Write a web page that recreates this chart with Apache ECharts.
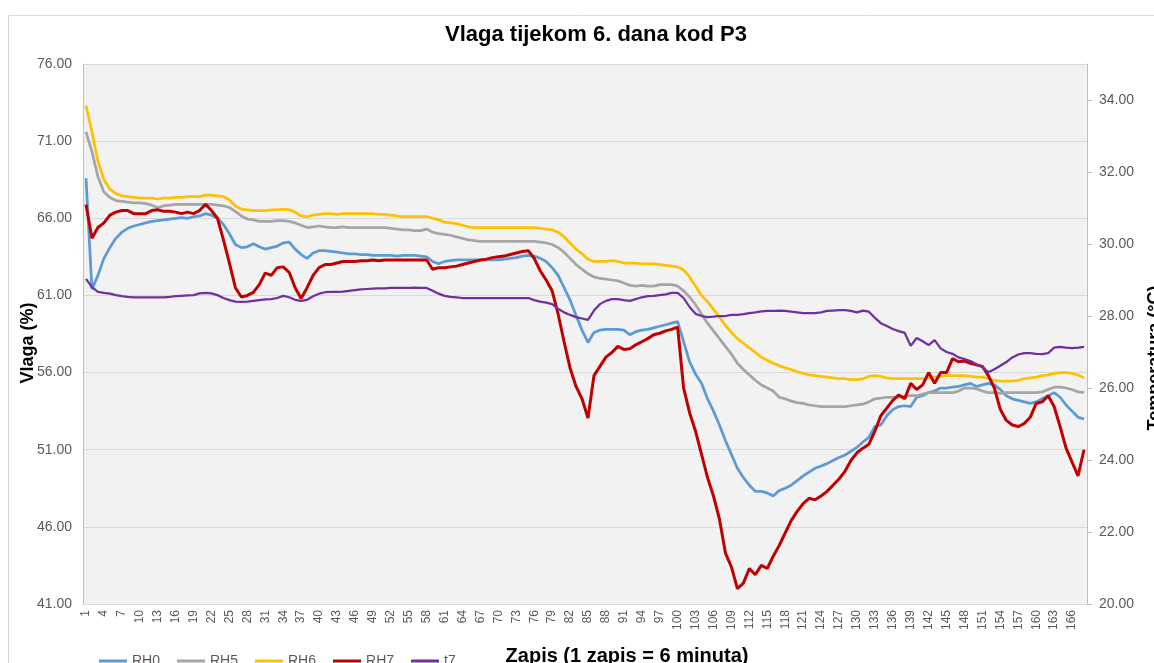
<!DOCTYPE html>
<html>
<head>
<meta charset="utf-8">
<title>Vlaga tijekom 6. dana kod P3</title>
<script src="https://cdn.jsdelivr.net/npm/echarts@6/dist/echarts.min.js"></script>
<style>
  html, body { margin: 0; padding: 0; background: #fff; }
  #chart { width: 1154px; height: 663px; }
</style>
</head>
<body>
<div id="chart"></div>
<script>
// redni broj zapisa (1 zapis = 6 minuta)
const records = Array.from({ length: 168 }, (v, i) => String(i + 1))

// vlaga (%) - lijeva os
const rh0 = [
  68.6, 61.4, 62.3, 63.4, 64.1, 64.7, 65.1, 65.35, 65.5, 65.6,
  65.7, 65.8, 65.85, 65.9, 65.95, 66.0, 66.05, 66.0, 66.1, 66.15,
  66.3, 66.2, 66.0, 65.6, 65.0, 64.3, 64.1, 64.15, 64.35, 64.15,
  64.0, 64.1, 64.2, 64.4, 64.45, 64.0, 63.65, 63.4, 63.75, 63.9,
  63.9, 63.85, 63.8, 63.75, 63.7, 63.7, 63.65, 63.65, 63.6, 63.6,
  63.6, 63.6, 63.55, 63.6, 63.6, 63.6, 63.55, 63.5, 63.2, 63.05,
  63.2, 63.25, 63.3, 63.3, 63.3, 63.3, 63.3, 63.3, 63.3, 63.3,
  63.35, 63.4, 63.45, 63.55, 63.6, 63.55, 63.4, 63.2, 62.8, 62.3,
  61.5, 60.7, 59.7, 58.75, 57.95, 58.6, 58.75, 58.8, 58.8, 58.8,
  58.75, 58.45, 58.65, 58.75, 58.8, 58.9, 59.0, 59.1, 59.2, 59.3,
  58.0, 56.7, 55.9, 55.3, 54.3, 53.5, 52.6, 51.6, 50.7, 49.8,
  49.2, 48.7, 48.3, 48.3, 48.2, 48.0, 48.35, 48.5, 48.7, 49.0,
  49.3, 49.55, 49.8, 49.95, 50.1, 50.3, 50.5, 50.65, 50.9, 51.15,
  51.5, 51.8, 52.5, 52.6, 53.2, 53.6, 53.8, 53.85, 53.8, 54.4,
  54.5, 54.7, 54.8, 55.0, 55.0, 55.05, 55.1, 55.2, 55.3, 55.1,
  55.2, 55.3, 55.2, 54.9, 54.5, 54.3, 54.2, 54.1, 54.0, 54.1,
  54.3, 54.5, 54.7, 54.4, 53.9, 53.5, 53.1, 53.0
]
const rh5 = [
  71.6, 70.3, 68.7, 67.7, 67.35, 67.15, 67.1, 67.05, 67.0, 67.0,
  66.95, 66.85, 66.7, 66.8, 66.85, 66.9, 66.9, 66.9, 66.9, 66.9,
  66.9, 66.9, 66.85, 66.8, 66.7, 66.45, 66.15, 65.95, 65.9, 65.8,
  65.8, 65.8, 65.85, 65.85, 65.8, 65.7, 65.55, 65.4, 65.45, 65.5,
  65.45, 65.4, 65.4, 65.45, 65.4, 65.4, 65.4, 65.4, 65.4, 65.4,
  65.4, 65.35, 65.3, 65.25, 65.25, 65.2, 65.2, 65.3, 65.1, 65.0,
  64.95, 64.9, 64.8, 64.7, 64.6, 64.55, 64.5, 64.5, 64.5, 64.5,
  64.5, 64.5, 64.5, 64.5, 64.5, 64.5, 64.45, 64.4, 64.3, 64.1,
  63.8, 63.4, 63.0, 62.7, 62.4, 62.2, 62.1, 62.05, 62.0, 61.95,
  61.8, 61.65, 61.6, 61.65, 61.6, 61.6, 61.7, 61.7, 61.7, 61.6,
  61.3, 60.9, 60.4, 59.8, 59.2, 58.7, 58.2, 57.7, 57.2, 56.6,
  56.2, 55.85, 55.5, 55.2, 55.0, 54.8, 54.4, 54.3, 54.15, 54.05,
  54.0, 53.9, 53.85, 53.8, 53.8, 53.8, 53.8, 53.8, 53.85, 53.9,
  53.95, 54.1, 54.3, 54.35, 54.4, 54.4, 54.4, 54.45, 54.5, 54.5,
  54.6, 54.7, 54.7, 54.7, 54.7, 54.7, 54.8, 55.0, 55.0, 54.95,
  54.8, 54.7, 54.7, 54.65, 54.7, 54.7, 54.7, 54.7, 54.7, 54.7,
  54.75, 54.9, 55.05, 55.05, 55.0, 54.9, 54.75, 54.7
]
const rh6 = [
  73.3, 71.6, 69.7, 68.5, 67.9, 67.6, 67.45, 67.4, 67.35, 67.3,
  67.3, 67.3, 67.25, 67.3, 67.3, 67.35, 67.35, 67.4, 67.4, 67.4,
  67.5, 67.5, 67.45, 67.4, 67.2, 66.8, 66.6, 66.55, 66.5, 66.5,
  66.5, 66.55, 66.55, 66.6, 66.55, 66.4, 66.15, 66.1, 66.2, 66.25,
  66.3, 66.3, 66.25, 66.3, 66.3, 66.3, 66.3, 66.3, 66.3, 66.25,
  66.25, 66.2, 66.15, 66.1, 66.1, 66.1, 66.1, 66.1, 66.0, 65.9,
  65.75, 65.7, 65.65, 65.55, 65.45, 65.4, 65.4, 65.4, 65.4, 65.4,
  65.4, 65.4, 65.4, 65.4, 65.4, 65.4, 65.35, 65.3, 65.25, 65.1,
  64.8, 64.4, 64.0, 63.7, 63.35, 63.2, 63.2, 63.2, 63.25, 63.2,
  63.1, 63.1, 63.1, 63.05, 63.05, 63.05, 63.0, 62.95, 62.9, 62.85,
  62.65, 62.2, 61.6, 61.0, 60.6, 60.1, 59.6, 59.05, 58.6, 58.2,
  57.9, 57.6, 57.3, 57.0, 56.8, 56.6, 56.45, 56.3, 56.2, 56.05,
  55.95, 55.85, 55.8, 55.75, 55.7, 55.65, 55.6, 55.6, 55.55, 55.55,
  55.6, 55.75, 55.8, 55.75, 55.65, 55.6, 55.6, 55.6, 55.6, 55.6,
  55.6, 55.65, 55.7, 55.75, 55.8, 55.8, 55.8, 55.8, 55.75, 55.7,
  55.7, 55.6, 55.5, 55.45, 55.45, 55.45, 55.5, 55.6, 55.65, 55.7,
  55.8, 55.85, 55.95, 56.0, 56.0, 55.95, 55.85, 55.65
]
const rh7 = [
  66.9, 64.7, 65.4, 65.7, 66.2, 66.4, 66.5, 66.5, 66.3, 66.3,
  66.3, 66.5, 66.55, 66.45, 66.45, 66.4, 66.3, 66.4, 66.3, 66.5,
  66.9, 66.5, 66.0, 64.6, 63.1, 61.5, 60.9, 61.0, 61.2, 61.7,
  62.45, 62.3, 62.8, 62.85, 62.5, 61.5, 60.8, 61.5, 62.3, 62.8,
  63.0, 63.0, 63.1, 63.2, 63.2, 63.2, 63.25, 63.25, 63.3, 63.25,
  63.3, 63.3, 63.3, 63.3, 63.3, 63.3, 63.3, 63.3, 62.7, 62.8,
  62.8, 62.85, 62.9, 63.0, 63.1, 63.2, 63.3, 63.35, 63.45, 63.5,
  63.55, 63.65, 63.75, 63.85, 63.9, 63.4, 62.6, 62.0, 61.3, 59.8,
  58.0, 56.3, 55.1, 54.3, 53.05, 55.8, 56.4, 57.0, 57.3, 57.7,
  57.5, 57.55, 57.8, 58.0, 58.2, 58.45, 58.55, 58.7, 58.8, 58.95,
  55.0, 53.4, 52.2, 50.7, 49.2, 48.0, 46.5, 44.3, 43.4, 42.0,
  42.35, 43.3, 42.9, 43.5, 43.3, 44.1, 44.8, 45.6, 46.4, 47.0,
  47.5, 47.85, 47.75, 48.0, 48.3, 48.7, 49.1, 49.6, 50.3, 50.8,
  51.1, 51.35, 52.2, 53.2, 53.7, 54.2, 54.55, 54.3, 55.3, 54.9,
  55.2, 56.0, 55.3, 56.0, 56.0, 56.9, 56.7, 56.75, 56.6, 56.5,
  56.4, 55.8, 55.0, 53.6, 52.9, 52.6, 52.5, 52.7, 53.1, 54.0,
  54.1, 54.5, 53.8, 52.5, 51.1, 50.2, 49.3, 51.0
]

// temperatura (°C) - desna os
const t7 = [
  29.03, 28.8, 28.67, 28.64, 28.62, 28.58, 28.55, 28.53, 28.52, 28.52,
  28.52, 28.52, 28.52, 28.52, 28.53, 28.55, 28.56, 28.57, 28.58, 28.63,
  28.64, 28.63, 28.58, 28.5, 28.44, 28.4, 28.39, 28.4, 28.42, 28.44,
  28.46, 28.47, 28.5, 28.56, 28.52, 28.45, 28.42, 28.45, 28.55, 28.62,
  28.66, 28.67, 28.67, 28.68, 28.7, 28.72, 28.74, 28.75, 28.76, 28.77,
  28.77, 28.78, 28.78, 28.78, 28.78, 28.79, 28.78, 28.78, 28.7, 28.62,
  28.56, 28.53, 28.52, 28.5, 28.5, 28.5, 28.5, 28.5, 28.5, 28.5,
  28.5, 28.5, 28.5, 28.5, 28.5, 28.44, 28.4, 28.37, 28.33, 28.2,
  28.1, 28.03, 27.97, 27.93, 27.89, 28.15, 28.33, 28.42, 28.47, 28.47,
  28.44, 28.42, 28.47, 28.52, 28.55, 28.56, 28.58, 28.6, 28.64, 28.64,
  28.5, 28.25, 28.06, 28.0, 27.97, 27.98, 28.0, 28.0, 28.03, 28.03,
  28.05, 28.08, 28.1, 28.13, 28.14, 28.14, 28.15, 28.14, 28.12, 28.1,
  28.08, 28.08, 28.08, 28.1, 28.14, 28.15, 28.16, 28.16, 28.14, 28.1,
  28.15, 28.12, 27.95, 27.8, 27.72, 27.64, 27.58, 27.53, 27.17, 27.39,
  27.3, 27.19, 27.33, 27.1, 27.0, 26.95, 26.85, 26.8, 26.75, 26.66,
  26.58, 26.44, 26.52, 26.62, 26.72, 26.85, 26.93, 26.97, 26.97, 26.95,
  26.94, 26.97, 27.12, 27.14, 27.12, 27.11, 27.12, 27.14
]

const tempTicks = [20, 22, 24, 26, 28, 30, 32, 34]

const font = 'Liberation Sans, Arial, sans-serif'
const chart = echarts.init(document.getElementById('chart'))

// jedna linija bez markera
const makeLine = (name, data, color, width, axis) => ({
  name,
  type: 'line',
  data,
  yAxisIndex: axis,
  symbol: 'none',
  lineStyle: { color, width },
  itemStyle: { color },
  emphasis: { disabled: true }
})

const option = {
  animation: false,
  textStyle: { fontFamily: font },
  title: {
    text: 'Vlaga tijekom 6. dana kod P3',
    left: 591,
    top: 19,
    textAlign: 'center',
    textStyle: { fontSize: 22, fontWeight: 'bold', color: '#000', fontFamily: font }
  },
  grid: {
    left: 83,
    right: 67,
    top: 64,
    bottom: 59,
    show: true,
    backgroundColor: '#f2f2f2',
    borderWidth: 0
  },
  legend: {
    left: 94,
    top: 649,
    icon: 'rect',
    itemWidth: 28,
    itemHeight: 3,
    itemGap: 17,
    textStyle: { fontSize: 14, color: '#595959', fontFamily: font },
    data: ['RH0', 'RH5', 'RH6', 'RH7', 't7']
  },
  xAxis: {
    type: 'category',
    data: records,
    boundaryGap: true,
    axisLine: { lineStyle: { color: '#d9d9d9' } },
    axisTick: { show: false },
    axisLabel: { interval: 2, rotate: 90, fontSize: 12, color: '#595959', margin: 6 }
  },
  yAxis: [
    {
      type: 'value',
      min: 41,
      max: 76,
      interval: 5,
      axisLine: { show: true, lineStyle: { color: '#bfbfbf' } },
      axisTick: { show: false },
      axisLabel: { formatter: v => v.toFixed(2), fontSize: 14, color: '#595959', margin: 11 },
      splitLine: { lineStyle: { color: '#d9d9d9' } }
    },
    {
      type: 'value',
      min: 20,
      max: 35,
      interval: 2,
      position: 'right',
      axisLine: { show: true, lineStyle: { color: '#bfbfbf' } },
      axisTick: { show: true, length: 5, customValues: tempTicks, lineStyle: { color: '#bfbfbf' } },
      axisLabel: { customValues: tempTicks, formatter: v => v.toFixed(2), fontSize: 14, color: '#595959', margin: 12 },
      splitLine: { show: false }
    }
  ],
  graphic: [
    {
      type: 'rect',
      z: -10,
      shape: { x: 8.5, y: 15.5, width: 1170, height: 670 },
      style: { fill: 'none', stroke: '#d9d9d9', lineWidth: 1 }
    },
    {
      type: 'text',
      x: 28,
      y: 343,
      rotation: Math.PI / 2,
      style: { text: 'Vlaga (%)', font: 'bold 18px ' + font, fill: '#000', textAlign: 'center', textVerticalAlign: 'middle' }
    },
    {
      type: 'text',
      x: 1155,
      y: 358,
      rotation: Math.PI / 2,
      style: { text: 'Temperatura (°C)', font: 'bold 18px ' + font, fill: '#000', textAlign: 'center', textVerticalAlign: 'middle' }
    },
    {
      type: 'text',
      x: 627,
      y: 656,
      style: { text: 'Zapis (1 zapis = 6 minuta)', font: 'bold 20px ' + font, fill: '#000', textAlign: 'center', textVerticalAlign: 'middle' }
    }
  ],
  series: [
    makeLine('RH0', rh0, '#5b9bd5', 2.75, 0),
    makeLine('RH5', rh5, '#a5a5a5', 2.75, 0),
    makeLine('RH6', rh6, '#ffc000', 2.75, 0),
    makeLine('RH7', rh7, '#c00000', 3, 0),
    makeLine('t7', t7, '#7030a0', 2.25, 1)
  ]
}

chart.setOption(option)
</script>
</body>
</html>
